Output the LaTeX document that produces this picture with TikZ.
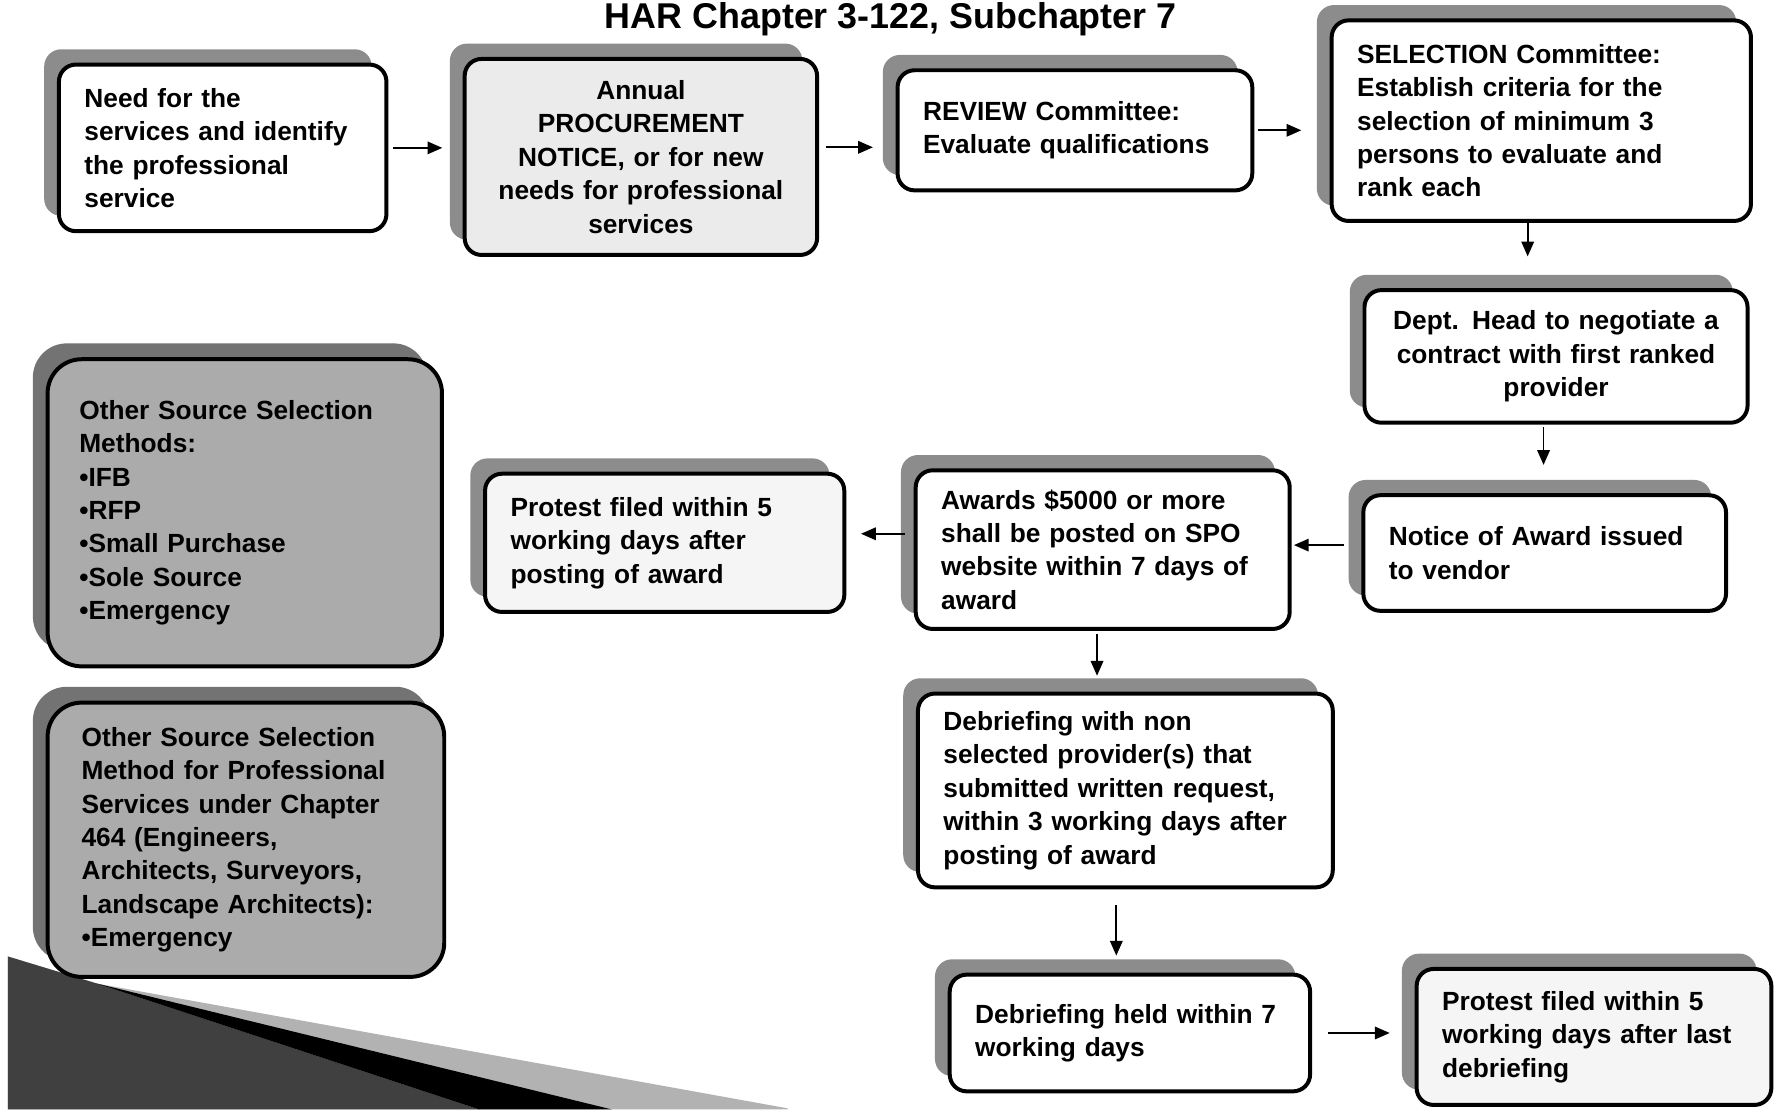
\documentclass[tikz,border=0pt]{standalone}
\usepackage{fontspec}
\setmainfont{Liberation Sans}
\usetikzlibrary{arrows.meta,shadows}

\begin{document}
\begin{tikzpicture}
\tikzstyle{boxstyle}=[draw, line width=2pt, rounded corners=0.3cm, align=left, inner xsep=0.45cm, inner ysep=0pt, font=\bfseries\fontsize{13.2}{16.8}\selectfont]
\tikzstyle{whitebox}=[boxstyle, fill=white, drop shadow={shadow xshift=-0.26cm, shadow yshift=0.27cm, opacity=1, fill=black!45}]
\tikzstyle{graybox}=[boxstyle, rounded corners=0.6cm, fill=black!33, drop shadow={shadow xshift=-0.26cm, shadow yshift=0.28cm, opacity=1, fill=black!55}]
\tikzstyle{flowarrow}=[-{Triangle[length=2.6mm,width=2.2mm]}, line width=0.9pt]
    \useasboundingbox (0,0) rectangle (31.36,19.58);
    \clip (0,0) rectangle (31.36,19.58);
    \fill[white] (0,0) rectangle (31.36,19.58);
    % title
    \node[font=\bfseries\fontsize{18}{18}\selectfont, anchor=base] (title) at (15.72,19.08) {HAR Chapter 3-122, Subchapter 7};
    % floor wedge at the bottom left
    \fill[black!30] (0.14,2.70) -- (1.72,2.22) -- (13.9,0.02) -- (13.9,0) -- (0.14,0) -- cycle;
    \fill[black!75] (0.14,2.70) -- (1.72,2.22) -- (8.46,0) -- (0.14,0) -- cycle;
    \fill[black] (1.72,2.22) -- (10.8,0) -- (8.46,0) -- cycle;
    % top row
    \node[whitebox, minimum height=2.94cm, text width=4.88cm] (need) at (3.93,16.97) {Need for the\\services and identify\\the professional\\service};
    \node[whitebox, fill=black!8, align=center, inner xsep=0.2cm, minimum height=3.46cm, text width=5.82cm] (annual) at (11.31,16.81) {Annual\\PROCUREMENT\\NOTICE, or for new\\needs for professional\\services};
    \node[whitebox, minimum height=2.12cm, text width=5.36cm] (review) at (18.97,17.28) {REVIEW Committee:\\Evaluate qualifications};
    \node[whitebox, minimum height=3.54cm, text width=6.5cm] (select) at (27.2,17.45) {SELECTION Committee:\\Establish criteria for the\\selection of minimum 3\\persons to evaluate and\\rank each};
    % right column and middle row
    \node[whitebox, align=center, inner xsep=0.2cm, minimum height=2.34cm, text width=6.36cm] (dept) at (27.46,13.29) {Dept. Head to negotiate a\\contract with first ranked\\provider};
    \node[whitebox, minimum height=2.04cm, text width=5.5cm] (notice) at (27.26,9.82) {Notice of Award issued\\to vendor};
    \node[whitebox, minimum height=2.8cm, text width=5.7cm] (post) at (19.46,9.88) {Awards \$5000 or more\\shall be posted on SPO\\website within 7 days of\\award};
    \node[whitebox, fill=black!4, minimum height=2.44cm, text width=5.44cm] (protest) at (11.73,10.0) {Protest filed within 5\\working days after\\posting of award};
    % lower column
    \node[whitebox, minimum height=3.42cm, text width=6.42cm] (debrief) at (19.86,5.63) {Debriefing with non\\selected provider(s) that\\submitted written request,\\within 3 working days after\\posting of award};
    \node[whitebox, minimum height=2.06cm, text width=5.46cm] (held) at (19.94,1.35) {Debriefing held within 7\\working days};
    \node[whitebox, fill=black!4, minimum height=2.4cm, text width=5.36cm] (protestlast) at (28.13,1.28) {Protest filed within 5\\working days after last\\debriefing};
    % other methods
    \node[graybox, inner xsep=0.56cm, minimum height=5.42cm, text width=5.84cm] (other1) at (4.32,10.53) {Other Source Selection\\Methods:\\•IFB\\•RFP\\•Small Purchase\\•Sole Source\\•Emergency};
    \node[graybox, inner xsep=0.6cm, minimum height=4.84cm, text width=5.8cm] (other2) at (4.34,4.76) {Other Source Selection\\Method for Professional\\Services under Chapter\\464 (Engineers,\\Architects, Surveyors,\\Landscape Architects):\\•Emergency};
    % arrows
    \draw[flowarrow, shorten <=0.8mm, shorten >=3.6mm] (need.east) -- (need.east -| annual.west);
    \draw[flowarrow, shorten <=1.2mm, shorten >=4mm] ([yshift=1.7mm]annual.east) -- ([yshift=1.7mm]annual.east -| review.west);
    \draw[flowarrow, shorten <=0.6mm, shorten >=5mm] (review.east) -- (review.east -| select.west);
    \draw[flowarrow, shorten >=5.6mm] ([xshift=-2.4mm]select.south) -- ([xshift=-2.4mm]select.south |- dept.north);
    \draw[flowarrow, shorten <=0.4mm, shorten >=5mm] ([xshift=-2.2mm]dept.south) -- ([xshift=-2.2mm]dept.south |- notice.north);
    \draw[flowarrow, shorten <=3mm, shorten >=0.4mm] ([yshift=1.4mm]notice.west) -- ([yshift=1.4mm]notice.west -| post.east);
    \draw[flowarrow, shorten <=1.6mm, shorten >=2.6mm] ([yshift=2.8mm]post.west) -- ([yshift=2.8mm]post.west -| protest.east);
    \draw[flowarrow, shorten <=0.6mm, shorten >=2.8mm] ([xshift=-1mm]post.south) -- ([xshift=-1mm]post.south |- debrief.north);
    \draw[flowarrow, shorten <=2.8mm, shorten >=3mm] ([xshift=-1.6mm]debrief.south) -- ([xshift=-1.6mm]debrief.south |- held.north);
    \draw[flowarrow, shorten <=2.8mm, shorten >=4.4mm] (held.east) -- (held.east -| protestlast.west);
\end{tikzpicture}
\end{document}
